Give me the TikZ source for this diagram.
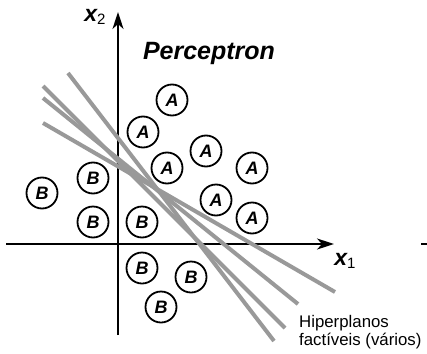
\documentclass[tikz,border=0pt]{standalone}
\usepackage{fontspec}
\setmainfont{Liberation Sans}
\usetikzlibrary{arrows.meta}
\definecolor{hypgray}{HTML}{999999}

\tikzset{
  classpt/.style={circle, draw=black, line width=1.8pt, minimum size=31pt, inner sep=0pt,
    font=\fontsize{18}{18}\selectfont\bfseries\itshape},
  hyperplane/.style={hypgray, line width=4pt},
  axisline/.style={black, line width=2pt},
}

\begin{document}
\begin{tikzpicture}[x=1pt, y=-1pt, >={Stealth[length=17pt, width=11pt, inset=5pt]}]

\useasboundingbox (0,0) rectangle (427,353);

% Axes
\coordinate (x1start) at (6,244);
\coordinate (x1end) at (334,244);
\coordinate (x2start) at (118,335);
\coordinate (x2end) at (118,12);
\draw[axisline, ->] (x1start) -- (x1end);
\draw[axisline, ->] (x2start) -- (x2end);
\draw[axisline] (421,244) -- (427,244);

\node[font=\fontsize{23}{23}\selectfont] (x2lab) at (95,17)
  {{\bfseries\itshape x}\raisebox{-0.3ex}{\fontsize{15}{15}\selectfont 2}};
\node[font=\fontsize{23}{23}\selectfont] (x1lab) at (345,261)
  {{\bfseries\itshape x}\raisebox{-0.3ex}{\fontsize{15}{15}\selectfont 1}};

% Title
\node[font=\fontsize{25}{25}\selectfont\bfseries\itshape] (title) at (209,53) {Perceptron};

% Feasible hyperplanes
\draw[hyperplane] (68,73) -- (274,341);
\draw[hyperplane] (43,86) -- (285,328);
\draw[hyperplane] (43,98) -- (298,304);
\draw[hyperplane] (43,123) -- (335,292);

% Class A
\node[classpt] (A1) at (172,100) {A};
\node[classpt] (A2) at (143,132) {A};
\node[classpt] (A3) at (206,151) {A};
\node[classpt] (A4) at (167,168) {A};
\node[classpt] (A5) at (252,168) {A};
\node[classpt] (A6) at (216,200) {A};
\node[classpt] (A7) at (252,218) {A};

% Class B
\node[classpt] (B1) at (42,193) {B};
\node[classpt] (B2) at (93,178) {B};
\node[classpt] (B3) at (93,222) {B};
\node[classpt] (B4) at (142,222) {B};
\node[classpt] (B5) at (142,268) {B};
\node[classpt] (B6) at (191,277) {B};
\node[classpt] (B7) at (161,307) {B};

% Label
\node[anchor=north west, inner sep=0pt, align=left,
  font=\fontsize{16.8}{18}\selectfont] (hyplab) at (299,315) {Hiperplanos\\factíveis (vários)};

\end{tikzpicture}
\end{document}
